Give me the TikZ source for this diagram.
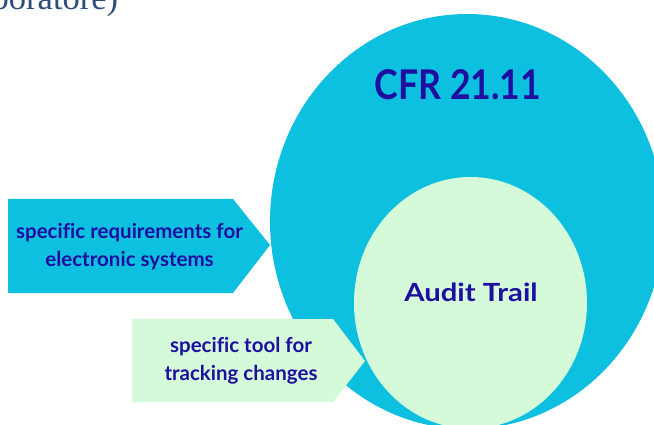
\documentclass[tikz,border=0pt]{standalone}
\usepackage{fontspec}
\setmainfont{Lato}[Ligatures=NoCommon]
\newfontfamily\serifhead{Liberation Serif}
\definecolor{cfrblue}{HTML}{0EC0E0}
\definecolor{audgreen}{HTML}{D5FAD9}
\definecolor{inktext}{HTML}{1E0FA0}
\definecolor{headtext}{HTML}{2E4D7B}
\begin{document}
\begin{tikzpicture}[x=1pt,y=-1pt,
  lbl/.style={text=inktext,font=\bfseries\fontsize{20.5}{28}\selectfont,align=center,inner sep=0pt},
  big/.style={text=inktext,font=\bfseries\fontsize{41}{44}\selectfont,inner sep=0pt},
  mid/.style={text=inktext,font=\bfseries\fontsize{25}{28}\selectfont,inner sep=0pt}]
\useasboundingbox (0,0) rectangle (654,425);
\clip (0,0) rectangle (654,425);
% outer ellipse
\fill[cfrblue] (467,221.5) ellipse [x radius=197, y radius=207.5];
% arrow 1
\fill[cfrblue] (8,199) -- (233,199) -- (270,245) -- (233,293) -- (8,293) -- cycle;
% arrow 2
\fill[audgreen] (132,319) -- (333,319) -- (365,361) -- (333,402) -- (132,402) -- cycle;
% inner ellipse
\fill[audgreen] (470.5,302.8) ellipse [x radius=116.5, y radius=125.8];
% texts
\node[big] (cfr) at (458,85) {\scalebox{0.87}[1]{CFR 21.11}};
\node[mid] (aud) at (471,292) {\scalebox{1.17}[1]{Audit Trail}};
\node[lbl] (req) at (129.5,247) {specific requirements for\\electronic systems};
\node[lbl] (tool) at (241,361) {specific tool for\\tracking changes};
\node[anchor=base west,inner sep=0pt,text=headtext,font=\serifhead\fontsize{34.5}{38}\selectfont] (head) at (-8.5,10) {boratore)};
\end{tikzpicture}
\end{document}
